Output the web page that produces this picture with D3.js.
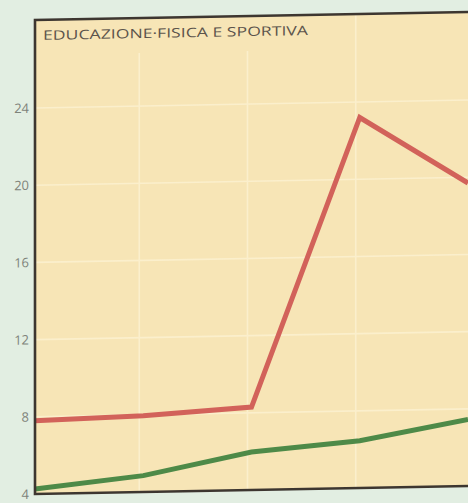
<!DOCTYPE html>
<html><head><meta charset="utf-8">
<script src="https://cdn.jsdelivr.net/npm/d3@7/dist/d3.min.js"></script>
<style>html,body{margin:0;padding:0;background:#e2eee2;}svg{display:block;}</style>
</head><body>
<script>
const title = "EDUCAZIONE·FISICA E SPORTIVA";
const periods = ["P1", "P2", "P3", "P4", "P5"];
const redValues = [7.8, 7.95, 8.3, 23.2, 19.7];
const greenValues = [4.26, 4.85, 5.97, 6.45, 7.45];
const yTicks = [4, 8, 12, 16, 20, 24];

(function () {
const W = 468, H = 503;
const svg = d3.select("body").append("svg").attr("width", W).attr("height", H);
svg.append("rect").attr("width", W).attr("height", H).attr("fill", "#e2eee2");

const mLeft = 35, mRight = 468, mTop = 20, mBottom = 494;
const g = svg.append("g").attr("transform", `translate(${mLeft},0) skewY(-1.05) translate(${-mLeft},0)`);

const x = d3.scalePoint().domain(periods).range([mLeft, mRight]);
const y = d3.scaleLinear().domain([4, 24]).range([mBottom, 108]);

g.append("rect").attr("x", mLeft).attr("y", mTop).attr("width", mRight - mLeft + 10).attr("height", mBottom - mTop).attr("fill", "#f7e5b6");

g.selectAll("line.h").data(yTicks.slice(1)).join("line")
  .attr("x1", mLeft).attr("x2", mRight + 10)
  .attr("y1", d => y(d)).attr("y2", d => y(d))
  .attr("stroke", "#fbefcc").attr("stroke-width", 1.6);
g.selectAll("line.v").data(periods.slice(1, 4)).join("line")
  .attr("x1", d => x(d) - 4).attr("x2", d => x(d) - 4)
  .attr("y1", d => x(d) < 320 ? 55 : mTop).attr("y2", mBottom)
  .attr("stroke", "#fbefcc").attr("stroke-width", 1.6);

const line = d3.line().x((d, i) => x(periods[i])).y(d => y(d));
g.append("path").datum(redValues).attr("d", line).attr("fill", "none")
  .attr("stroke", "#d2625a").attr("stroke-width", 5).attr("stroke-linejoin", "miter");
g.append("path").datum(greenValues).attr("d", line).attr("fill", "none")
  .attr("stroke", "#4e8a48").attr("stroke-width", 5).attr("stroke-linejoin", "miter");

g.append("path").attr("d", `M${mRight + 10},${mTop}H${mLeft}V${mBottom}H${mRight + 10}`)
  .attr("fill", "none").attr("stroke", "#3d3630").attr("stroke-width", 2.6);

const axis = d3.axisLeft(y).tickValues(yTicks).tickSize(0).tickPadding(6);
const ax = g.append("g").attr("transform", `translate(${mLeft},0)`).call(axis);
ax.select(".domain").remove();
ax.selectAll("text").attr("font-family", "Open Sans, sans-serif").attr("font-size", 13).attr("fill", "#7e837a");

g.append("text").attr("x", 43).attr("y", 40).text(title)
  .attr("font-family", "Open Sans, sans-serif").attr("font-size", 13)
  .attr("textLength", 265).attr("lengthAdjust", "spacingAndGlyphs")
  .attr("fill", "#5c544c");
})();
</script>
</body></html>
